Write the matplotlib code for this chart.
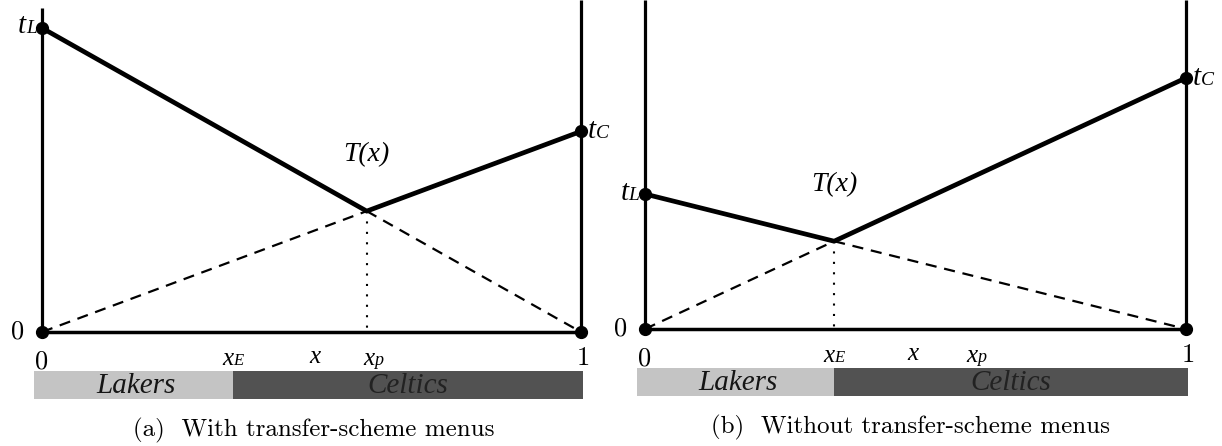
import matplotlib
matplotlib.use('Agg')
import matplotlib.pyplot as plt
from matplotlib import font_manager as fm
from matplotlib.offsetbox import TextArea, HPacker, AnnotationBbox

# threshold values for the two cases (same vertical unit in both panels)
t_L = [1.0, 0.444]
t_C = [0.66, 0.826]
# positions of the marked points on the [0, 1] line
x_E = [0.354, None]       # (b): x_E is where the two lines cross
x_mid = [0.506, 0.495]
x_P = [None, 0.6]         # (a): x_p is where the two lines cross
captions = ['(a)  With transfer-scheme menus', '(b)  Without transfer-scheme menus']
teams = ['Lakers', 'Celtics']

W, H = 1222, 446
unit = 304.0  # pixels per unit of t
panels = [(42, 581, 332), (645, 1186, 329)]  # left px, right px, baseline px
cap_x = [0.505, 0.49]

fig = plt.figure(figsize=(W / 100, H / 100), dpi=100)

serif_it = fm.findfont(fm.FontProperties(family='Liberation Serif', style='italic'))
cm_roman = fm.findfont(fm.FontProperties(family='cmr10'))


def ital(size):
    return dict(fontproperties=fm.FontProperties(fname=serif_it, size=size))


def roman(size):
    return dict(fontproperties=fm.FontProperties(fname=cm_roman, size=size))


def sub_label(ax, main, sub, xy, align, size, subsize):
    # letter with a small subscript sitting near the baseline
    box = HPacker(children=[TextArea(main, textprops=ital(size)),
                            TextArea(sub, textprops=ital(subsize))],
                  align='baseline', pad=0, sep=0)
    ab = AnnotationBbox(box, xy, xycoords='data', box_alignment=align,
                        frameon=False, pad=0, annotation_clip=False)
    ax.add_artist(ab)


for i, (px0, px1, py0) in enumerate(panels):
    ax = fig.add_axes([px0 / W, 0, (px1 - px0) / W, 1])
    ax.set_xlim(0, 1)
    ax.set_ylim(-(H - py0) / unit, py0 / unit)
    ax.axis('off')
    top = py0 / unit

    tl, tc = t_L[i], t_C[i]
    xc = tl / (tl + tc)
    yc = tc * xc

    # axes frame: two uprights and the base line
    ax.plot([0, 0], [0, top - (0.026 if i == 0 else 0)], color='black', lw=2.3,
            solid_capstyle='butt', clip_on=False)
    ax.plot([1, 1], [0, top], color='black', lw=2.3, solid_capstyle='butt', clip_on=False)
    ax.plot([0, 1], [0, 0], color='black', lw=2.5, clip_on=False)

    # dashed continuations of both lines
    ax.plot([0, xc], [0, yc], color='black', lw=1.6, ls=(0, (5, 3.5)), clip_on=False)
    ax.plot([xc, 1], [yc, 0], color='black', lw=1.6, ls=(0, (5, 3.5)), clip_on=False)
    # the lower envelope T(x)
    ax.plot([0, xc, 1], [tl, yc, tc], color='black', lw=3.4, clip_on=False)
    # drop line from the crossing point
    ax.plot([xc, xc], [yc, 0], color='black', lw=1.5, ls=(0, (1, 4)))

    ax.plot([0, 0, 1, 1], [tl, 0, 0, tc], 'o', color='black', ms=8.5, clip_on=False)

    sub_label(ax, 't', 'L', (-0.01, tl + 0.005), (1, 0.5), 21, 14)
    sub_label(ax, 't', 'C', (1.012, tc), (0, 0.5), 21, 14)
    ax.text(xc, yc + 0.185, 'T(x)', ha='center', va='center', **ital(20))

    ax.text(-0.045, 0, '0', ha='center', va='center', **roman(19))
    ax.text(0, -0.097, '0', ha='center', va='center', **roman(19))
    ax.text(1.004, -0.085, '1', ha='center', va='center', **roman(19))

    xe = x_E[i] if x_E[i] is not None else xc
    xp = x_P[i] if x_P[i] is not None else xc
    sub_label(ax, 'x', 'E', (xe, -0.088), (0.5, 0.5), 18, 12)
    ax.text(x_mid[i], -0.083, 'x', ha='center', va='center', **ital(18))
    sub_label(ax, 'x', 'p', (xp + 0.012, -0.088), (0.5, 0.5), 18, 13)

    # who wins on each side of x_E
    ax.barh(-0.174, xe + 0.015, height=0.093, left=-0.015, color='#c4c4c4', clip_on=False)
    ax.barh(-0.174, 1.004 - xe, height=0.093, left=xe, color='#525252', clip_on=False)
    ax.text((xe - 0.015) / 2 + 0.005, -0.178, teams[0], ha='center', va='center',
            color='#151515', **ital(21))
    ax.text((xe + 1.004) / 2, -0.178, teams[1], ha='center', va='center',
            color='#222222', **ital(21))

    ax.text(cap_x[i], -0.325, captions[i], ha='center', va='center', **roman(18))

fig.savefig('out.png', dpi=100)
